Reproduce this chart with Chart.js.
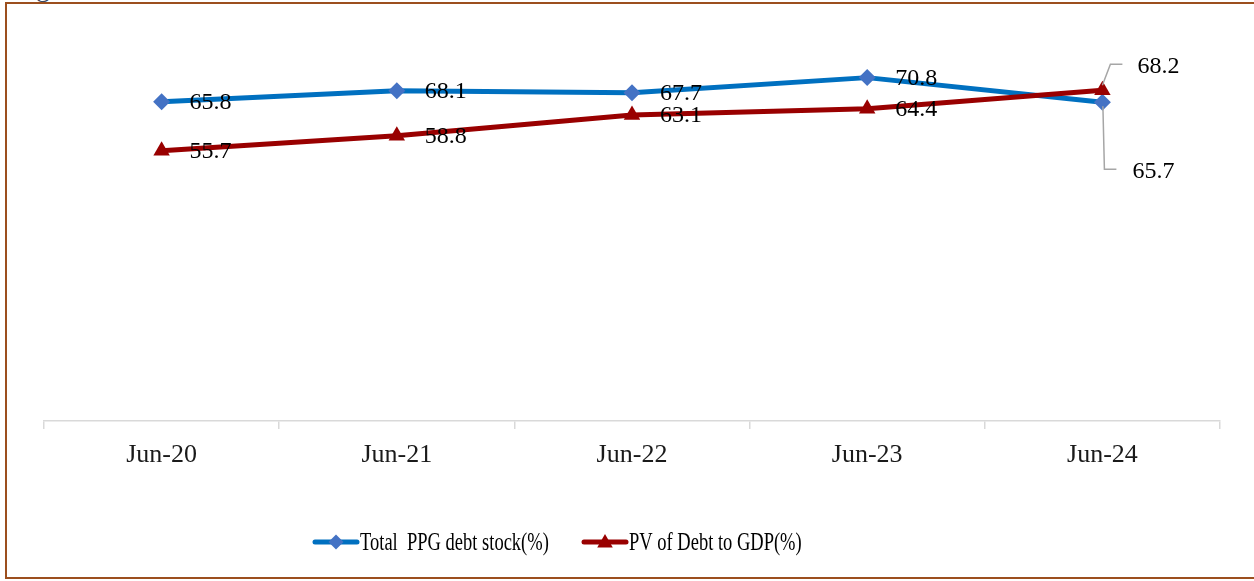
<!DOCTYPE html>
<html lang="en">
<head>
  <meta charset="UTF-8" />
  <title>PPG debt stock vs PV of debt to GDP</title>
  <script src="https://cdn.jsdelivr.net/npm/chart.js"></script>
  <style>
    html, body {
      margin: 0;
      padding: 0;
      background: #fff;
      overflow: hidden;
    }
    .frame {
      position: absolute;
      left: 5px;
      top: 2px;
      width: 1300px;
      height: 573px;
      border: 2px solid #9c4f1e;
      border-right: none;
    }
    .cut-title {
      position: absolute;
      left: 36px;
      top: -27px;
      font: 28px 'Liberation Serif', serif;
      line-height: 28px;
      color: #3b4a63;
    }
    #chart {
      position: absolute;
      left: 0;
      top: 0;
    }
  </style>
</head>
<body>
  <div class="frame"></div>
  <div class="cut-title">g</div>
  <canvas id="chart" width="1254" height="581"></canvas>

  <script>
    const categories = ["Jun-20", "Jun-21", "Jun-22", "Jun-23", "Jun-24"];
    const ppgDebtStock = [65.8, 68.1, 67.7, 70.8, 65.7];
    const pvDebtToGdp = [55.7, 58.8, 63.1, 64.4, 68.2];
    const seriesNames = ["Total  PPG debt stock(%)", "PV of Debt to GDP(%)"];

    const BLUE_LINE = "#0070c0";
    const BLUE_MARK = "#4472c4";
    const RED = "#990000";
    const SERIF = "'Liberation Serif', 'Times New Roman', serif";

    function diamond(ctx, x, y, r, color) {
      ctx.beginPath();
      ctx.moveTo(x - r, y);
      ctx.lineTo(x, y - r);
      ctx.lineTo(x + r, y);
      ctx.lineTo(x, y + r);
      ctx.closePath();
      ctx.fillStyle = color;
      ctx.fill();
    }

    function triangle(ctx, x, y, r, color) {
      const h = r * Math.cos(Math.PI / 6);
      ctx.beginPath();
      ctx.moveTo(x, y - r);
      ctx.lineTo(x + h, y + r / 2);
      ctx.lineTo(x - h, y + r / 2);
      ctx.closePath();
      ctx.fillStyle = color;
      ctx.fill();
    }

    // value labels, last point of each series gets a leader line like in Excel
    const valueLabels = {
      id: "valueLabels",
      afterDatasetsDraw(chart) {
        const ctx = chart.ctx;
        ctx.save();
        ctx.font = "24px " + SERIF;
        ctx.fillStyle = "#000";
        ctx.textBaseline = "middle";
        ctx.textAlign = "left";
        chart.data.datasets.forEach((ds, i) => {
          const meta = chart.getDatasetMeta(i);
          meta.data.forEach((pt, j) => {
            const txt = ds.data[j].toFixed(1);
            const last = j === meta.data.length - 1;
            if (!last) {
              ctx.fillText(txt, pt.x + 28, pt.y + 1);
              return;
            }
            ctx.strokeStyle = "#a6a6a6";
            ctx.lineWidth = 1.5;
            ctx.beginPath();
            if (i === 0) {
              // label pulled below the point
              ctx.moveTo(pt.x + 0.5, pt.y + 4);
              ctx.lineTo(pt.x + 2, pt.y + 67);
              ctx.lineTo(pt.x + 14, pt.y + 67);
              ctx.stroke();
              ctx.fillText(txt, pt.x + 30, pt.y + 69);
            } else {
              // label pulled above the point
              ctx.moveTo(pt.x, pt.y - 5);
              ctx.lineTo(pt.x + 8, pt.y - 26);
              ctx.lineTo(pt.x + 20, pt.y - 26);
              ctx.stroke();
              ctx.fillText(txt, pt.x + 35, pt.y - 24);
            }
          });
        });
        ctx.restore();
      }
    };

    const bottomLegend = {
      id: "bottomLegend",
      afterDraw(chart) {
        const ctx = chart.ctx;
        const y = 542;
        const items = [
          { x: 315, color: BLUE_LINE, mark: (cx) => diamond(ctx, cx, y, 7.5, BLUE_MARK) },
          { x: 584, color: RED, mark: (cx) => triangle(ctx, cx, y + 1, 9, RED) }
        ];
        ctx.save();
        items.forEach((it, i) => {
          ctx.strokeStyle = it.color;
          ctx.lineWidth = 5;
          ctx.lineCap = "round";
          ctx.beginPath();
          ctx.moveTo(it.x, y);
          ctx.lineTo(it.x + 42, y);
          ctx.stroke();
          it.mark(it.x + 21);
          ctx.save();
          ctx.translate(it.x + 45, y);
          ctx.scale(0.74, 1);
          ctx.font = "25px " + SERIF;
          ctx.fillStyle = "#000";
          ctx.textBaseline = "middle";
          ctx.fillText(seriesNames[i], 0, 1);
          ctx.restore();
        });
        ctx.restore();
      }
    };

    new Chart(document.getElementById("chart"), {
      type: "line",
      data: {
        labels: categories,
        datasets: [
          {
            label: seriesNames[0],
            data: ppgDebtStock,
            borderColor: BLUE_LINE,
            backgroundColor: BLUE_MARK,
            borderWidth: 5,
            borderCapStyle: "round",
            borderJoinStyle: "round",
            pointStyle: "rectRot",
            pointRadius: 8.5,
            pointBorderWidth: 0,
            pointBackgroundColor: BLUE_MARK,
            tension: 0,
            order: 1
          },
          {
            label: seriesNames[1],
            data: pvDebtToGdp,
            borderColor: RED,
            backgroundColor: RED,
            borderWidth: 5,
            borderCapStyle: "round",
            borderJoinStyle: "round",
            pointStyle: "triangle",
            pointRadius: 9.5,
            pointBorderWidth: 0,
            pointBackgroundColor: RED,
            tension: 0,
            order: 0
          }
        ]
      },
      options: {
        responsive: false,
        animation: false,
        layout: {
          padding: { left: 44, right: 34, top: 33, bottom: 0 }
        },
        plugins: {
          legend: { display: false },
          tooltip: { enabled: false }
        },
        scales: {
          x: {
            offset: true,
            grid: {
              offset: true,
              drawOnChartArea: false,
              drawTicks: true,
              tickLength: 8,
              color: "#d9d9d9",
              lineWidth: 1.5
            },
            border: { color: "#d9d9d9", width: 1.5 },
            ticks: {
              color: "#1a1a1a",
              font: { family: SERIF, size: 26 },
              padding: 11,
              maxRotation: 0
            },
            afterFit(scale) {
              scale.height = 160;
            }
          },
          y: {
            display: false,
            min: 0,
            max: 80
          }
        }
      },
      plugins: [valueLabels, bottomLegend]
    });
  </script>
</body>
</html>
